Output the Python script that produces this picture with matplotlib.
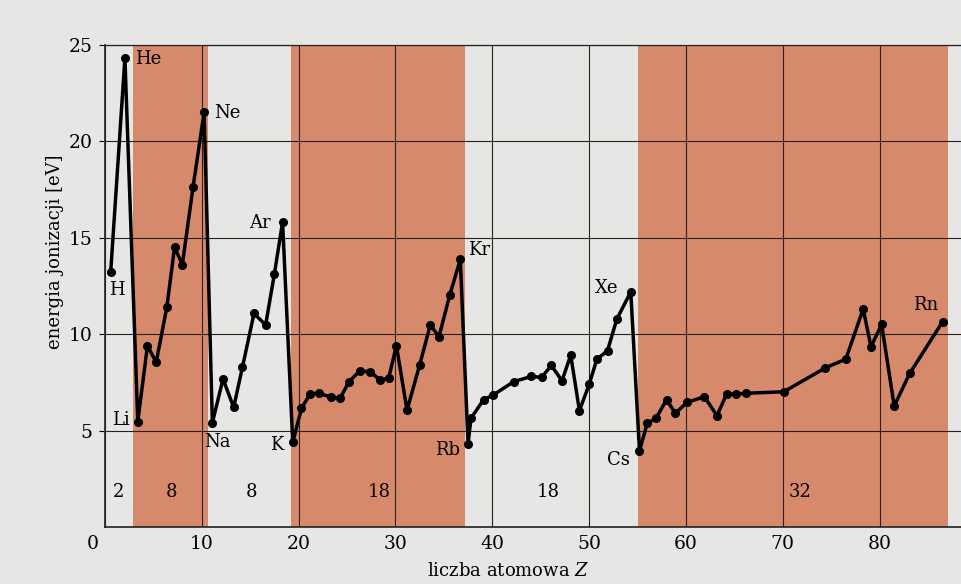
import matplotlib.pyplot as plt
import matplotlib.transforms as mtransforms
import numpy as np

plt.rcParams['font.family'] = ['DejaVu Serif']
plt.rcParams['mathtext.fontset'] = 'dejavuserif'

# positions along the Z axis as drawn, and ionization energy [eV]
z_pos = [0.6, 2.07, 3.4, 4.4, 5.3, 6.4, 7.2, 8.0, 9.1, 10.25,
         11.1, 12.2, 13.3, 14.2, 15.4, 16.6, 17.5, 18.35,
         19.4, 20.3, 21.2, 22.1, 23.4, 24.3, 25.2, 26.3, 27.4, 28.4, 29.3, 30.1,
         31.2, 32.5, 33.6, 34.5, 35.6, 36.7,
         37.5, 37.8, 39.1, 40.1, 42.2, 44.0, 45.1, 46.1, 47.2, 48.1,
         49.0, 50.0, 50.8, 51.9, 52.85, 54.3,
         55.2, 56.0, 56.9, 58.0, 58.9, 60.1, 61.9, 63.2, 64.2, 65.2, 66.2,
         70.1, 74.4, 76.5, 78.3, 79.1, 80.2, 81.5, 83.1, 86.5]
energy = [13.2, 24.3, 5.46, 9.4, 8.53, 11.4, 14.5, 13.6, 17.6, 21.5,
          5.4, 7.67, 6.2, 8.27, 11.07, 10.47, 13.1, 15.8,
          4.39, 6.15, 6.9, 6.93, 6.72, 6.67, 7.53, 8.08, 8.05, 7.62, 7.7, 9.4,
          6.06, 8.39, 10.47, 9.86, 12.0, 13.87,
          4.3, 5.63, 6.6, 6.84, 7.53, 7.8, 7.76, 8.37, 7.58, 8.91,
          6.03, 7.39, 8.69, 9.14, 10.76, 12.19,
          3.95, 5.37, 5.63, 6.6, 5.89, 6.46, 6.75, 5.77, 6.89, 6.89, 6.93,
          7.01, 8.25, 8.7, 11.3, 9.34, 10.5, 6.27, 7.96, 10.64]

# element labels
el_names = ['H', 'He', 'Li', 'Ne', 'Na', 'Ar', 'K', 'Kr', 'Rb', 'Xe', 'Cs', 'Rn']
el_x = [1.25, 4.5, 1.65, 12.6, 11.6, 16.0, 17.7, 38.6, 35.4, 51.8, 53.0, 84.7]
el_y = [12.3, 24.25, 5.55, 21.45, 4.42, 15.75, 4.25, 14.35, 4.0, 12.37, 3.47, 11.5]

# shaded periods and number of elements in each period
shade_from = [2.9, 19.2, 55.0]
shade_to = [10.7, 37.2, 87.1]
period_n = ['2', '8', '8', '18', '18', '32']
period_x = [1.45, 6.9, 15.1, 28.3, 45.8, 71.8]

bg = '#e6e6e4'
fig = plt.figure(figsize=(9.62, 5.84), dpi=100, facecolor=bg)
ax = fig.add_axes([0.109, 0.0976, 0.891, 0.826])
ax.set_facecolor(bg)

for a, b in zip(shade_from, shade_to):
    ax.axvspan(a, b, color='#d7896b', lw=0, zorder=0)

ax.set_xlim(0, 88.5)
ax.set_ylim(0, 25)
ax.set_xticks(np.arange(0, 90, 10))
ax.set_yticks(np.arange(5, 30, 5))
ax.grid(True, color='#2a1f1f', lw=0.8, zorder=1)

ax.plot(z_pos, energy, color='black', lw=2.5, marker='o', ms=5.5, zorder=3)

for name, x, y in zip(el_names, el_x, el_y):
    ax.text(x, y, name, fontsize=13, ha='center', va='center', zorder=4)

for n, x in zip(period_n, period_x):
    ax.text(x, 1.83, n, fontsize=13, ha='center', va='center', zorder=4)

for side in ['left', 'bottom', 'top']:
    ax.spines[side].set_color('#222222')
    ax.spines[side].set_linewidth(1.2)
ax.spines['top'].set_linewidth(0.9)
ax.spines['right'].set_visible(False)

ax.tick_params(axis='y', length=4, width=0.8, labelsize=13.5, pad=5)
ax.tick_params(axis='x', length=0, labelsize=13.5, pad=6)

# the origin "0" sits left of the corner
zero = ax.get_xticklabels()[0]
zero.set_transform(zero.get_transform() + mtransforms.ScaledTranslation(-12 / 100, 0, fig.dpi_scale_trans))

ax.set_ylabel('energia jonizacji [eV]', fontsize=13, labelpad=10)
ax.yaxis.set_label_coords(-0.048, 0.57)
ax.set_xlabel('liczba atomowa $Z$', fontsize=13)
ax.xaxis.set_label_coords(0.47, -0.072)

fig.savefig('out.png', dpi=100, facecolor=bg)
